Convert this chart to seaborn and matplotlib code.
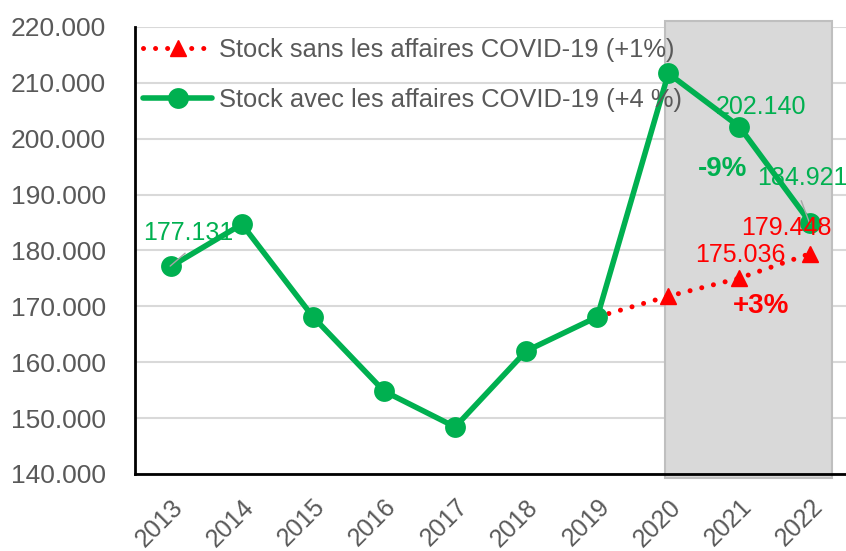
import pandas as pd
import matplotlib.pyplot as plt
import seaborn as sns
from matplotlib.patches import Rectangle
from matplotlib.lines import Line2D

years = ['2013', '2014', '2015', '2016', '2017', '2018', '2019', '2020', '2021', '2022']
stock_avec = [177.131, 184.7, 168.1, 154.8, 148.4, 162.0, 168.1, 211.7, 202.140, 184.921]
years_sans = ['2019', '2020', '2021', '2022']
stock_sans = [168.1, 171.8, 175.036, 179.448]

label_avec = 'Stock avec les affaires COVID-19 (+4 %)'
label_sans = 'Stock sans les affaires COVID-19 (+1%)'

GREEN = '#00B050'
RED = '#FF0000'
GREY_TXT = '#595959'
DOTS = (0, (0.01, 2.4))


def main():
    sns.set_theme(style='white')
    plt.rcParams['font.family'] = ['Liberation Sans', 'DejaVu Sans']

    df_avec = pd.DataFrame({'year': years, 'stock': stock_avec})
    df_sans = pd.DataFrame({'year': years_sans, 'stock': stock_sans})

    fig = plt.figure(figsize=(8.46, 5.51), dpi=100)
    ax = fig.add_axes([0.16, 0.14, 0.84, 0.811])

    # zone grisée 2020-2022
    ax.add_patch(Rectangle((6.95, 139.3), 2.36, 81.8, facecolor='#D9D9D9',
                           edgecolor='#BFBFBF', lw=1.5, clip_on=False, zorder=1))

    sns.lineplot(data=df_avec, x='year', y='stock', ax=ax, color=GREEN, lw=4,
                 marker='o', markersize=15, markeredgewidth=0, sort=False, zorder=4)
    pos = {y: i for i, y in enumerate(years)}
    ax.plot([pos[y] for y in years_sans], df_sans['stock'], color=RED, ls=DOTS,
            lw=3.6, dash_capstyle='round', zorder=3)
    ax.plot([pos[y] for y in years_sans[1:]], df_sans['stock'][1:], ls='none', marker='^',
            color=RED, markersize=11, zorder=3)

    ax.set_xlim(-0.5, 9.5)
    ax.set_ylim(140, 220)
    ax.set_yticks(range(140, 221, 10))
    ax.set_yticklabels([f'{v}.000' for v in range(140, 221, 10)], fontsize=19, color=GREY_TXT)
    ax.tick_params(axis='y', length=0, pad=21)
    ax.yaxis.grid(True, color='#D9D9D9', lw=1.5)
    ax.set_axisbelow(True)

    ax.set_xticks([i - 0.5 for i in range(len(years) + 1)])
    ax.set_xticklabels([])
    ax.set_xticks(range(len(years)), minor=True)
    ax.set_xticklabels(years, minor=True, rotation=45, ha='right', rotation_mode='anchor',
                       fontsize=18, color=GREY_TXT)
    ax.tick_params(axis='x', which='major', length=8, width=2, color='black', direction='out')
    ax.tick_params(axis='x', which='minor', length=0, pad=15)
    ax.set_xlabel('')
    ax.set_ylabel('')

    for s in ['top', 'right']:
        ax.spines[s].set_visible(False)
    for s in ['left', 'bottom']:
        ax.spines[s].set_color('black')
        ax.spines[s].set_linewidth(2)

    # étiquettes de données
    lab = dict(fontsize=18, ha='center', va='center', zorder=6)
    ax.plot([-0.01, 0.2], [177.2, 179.5], color='#A6A6A6', lw=1, zorder=5)
    ax.text(0.25, 183.1, '177.131', color=GREEN, **lab)
    ax.text(8.31, 205.7, '202.140', color=GREEN, **lab)
    ax.plot([8.87, 8.99], [188.9, 184.8], color='#A6A6A6', lw=1, zorder=5)
    ax.text(8.88, 193.0, '184.921', color=GREEN, **lab)
    ax.text(8.66, 184.0, '179.448', color=RED, **lab)
    ax.text(8.01, 179.2, '175.036', color=RED, **lab)
    bold = dict(fontsize=20, fontweight='bold', ha='center', va='center', zorder=6)
    ax.text(7.76, 194.6, '-9%', color=GREEN, **bold)
    ax.text(8.3, 170.0, '+3%', color=RED, **bold)

    handles = [
        Line2D([], [], color=RED, ls=DOTS, lw=3.6, dash_capstyle='round',
               marker='^', markersize=11),
        Line2D([], [], color=GREEN, lw=4, marker='o', markersize=15, markeredgewidth=0),
    ]
    leg = ax.legend(handles, [label_sans, label_avec], loc='upper left',
                    bbox_to_anchor=(-0.021, 1.027), frameon=False, fontsize=18.4,
                    handlelength=2.7, handletextpad=0.27, labelspacing=1.03)
    for t in leg.get_texts():
        t.set_color(GREY_TXT)

    fig.savefig('out.png', dpi=100)
    plt.close(fig)


if __name__ == '__main__':
    main()
